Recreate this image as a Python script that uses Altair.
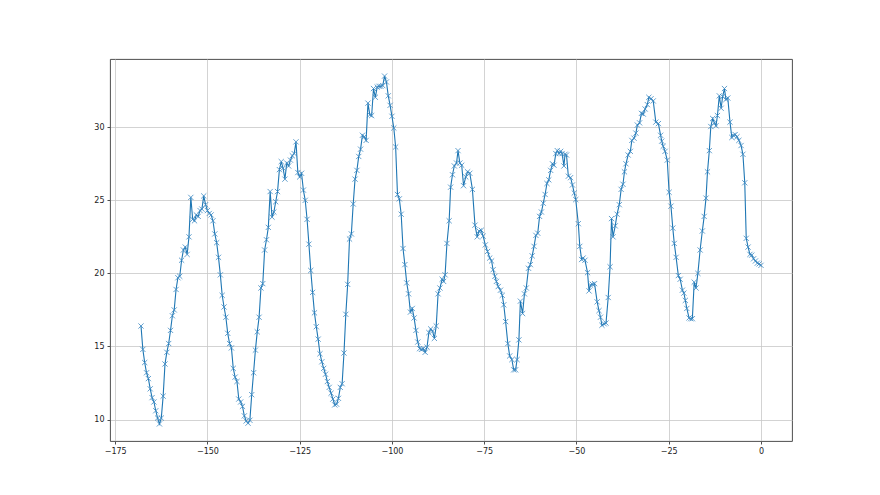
import numpy as np
import pandas as pd
import altair as alt

# --- hourly-ish readings, regular half-hour grid from -168 to -87 ---
hours_regular = list(np.arange(-168.0, -86.9, 0.5))
temps_regular = [
    16.4, 14.8, 13.9, 13.2, 12.8, 12.1, 11.5, 11.2, 10.6, 10.1,
    9.7, 10.1, 11.6, 13.8, 14.6, 15.2, 16.1, 17.1, 17.5, 18.9,
    19.7, 19.8, 20.9, 21.6, 21.8, 21.3, 22.5, 25.2, 23.7, 23.6,
    24.0, 23.9, 24.3, 24.4, 25.3, 24.7, 24.3, 24.1, 24.0, 23.6,
    22.7, 22.1, 21.1, 19.9, 18.5, 17.7, 17.0, 15.9, 15.2, 14.9,
    13.5, 12.9, 12.6, 11.4,
    11.2, 10.9, 10.25, 9.9, 9.75, 9.95, 11.7, 13.2, 14.75, 16.0,
    17.0, 19.0, 19.3, 21.6, 22.3, 23.15, 25.6, 23.85, 24.2, 24.9,
    25.6, 27.1, 27.65, 27.2, 26.45, 27.55, 27.35, 27.75, 28.05, 28.2,
    29.0, 26.9, 26.6, 26.85, 25.7, 25.0, 23.7, 22.0, 20.2, 18.7,
    17.3, 16.35, 15.5, 14.5, 13.95, 13.5, 13.1, 12.6, 12.2, 11.8,
    11.4, 11.0, 11.05, 11.45,
    12.2, 12.45, 14.55, 17.2, 19.25, 22.35, 22.7, 24.75, 26.45, 27.05,
    28.0, 28.5, 29.45, 29.35, 29.1, 31.65, 30.85, 30.8, 32.65, 32.05,
    32.75, 32.8, 32.8, 32.85, 33.5, 33.1, 32.15, 31.5, 30.75, 29.95,
    28.65, 25.4, 25.1, 24.05, 21.7, 20.6, 19.35, 18.6, 17.35, 17.6,
    16.95, 16.1, 15.3, 14.85, 14.8, 14.85, 14.6, 14.95, 15.95, 16.2,
    16.05, 15.55, 16.4, 18.6, 19.0,
]

# --- readings from -86.4 to 0 (positions) ---
hours_late = [
    -86.4, -86.0, -85.6, -85.1, -84.5, -84.1, -83.6, -83.1, -82.5, -82.1,
    -81.6, -81.1, -80.6, -80.0, -79.5, -78.9, -78.2, -77.5, -76.9, -76.4,
    -75.8, -75.3, -74.7, -74.1, -73.5, -73.0, -72.6, -72.1, -71.7, -71.2,
    -70.6, -70.1, -69.7, -69.2, -68.6, -68.1, -67.5, -67.0, -66.5, -66.1,
    -65.6, -65.2, -64.6, -64.1, -63.6, -63.0, -62.5, -62.0, -61.5, -61.0,
    -60.5,
    -60.0, -59.5, -59.0, -58.5, -58.0, -57.5, -57.0, -56.5, -56.1, -55.6,
    -55.2, -54.7, -54.3, -53.9, -53.4, -53.1, -52.7, -52.2, -51.6, -51.1,
    -50.6, -50.2, -49.5, -49.1, -48.6, -48.2, -47.7, -47.0, -46.6, -46.2,
    -45.7, -45.1, -44.4, -43.9, -43.5, -43.1, -42.5, -42.0, -41.4, -40.9,
    -40.5, -40.1, -39.5, -39.0, -38.4, -37.9, -37.4, -37.0, -36.6, -36.0,
    -35.4, -35.0, -34.4, -33.9, -33.5, -32.9, -32.4, -31.9, -31.4, -30.8,
    -30.4,
    -29.8, -29.2, -28.5, -27.8, -27.2, -26.9, -26.5, -26.0, -25.4, -24.9,
    -24.4, -23.9, -23.5, -23.0, -22.4, -21.9, -21.3, -20.9, -20.5, -20.1,
    -19.5, -19.05, -18.6, -18.1, -17.6, -17.1, -16.5, -15.9, -15.4, -14.9,
    -14.5, -14.0, -13.6, -13.1, -12.6, -12.2, -11.8, -11.3, -10.8, -10.4,
    -9.9, -9.5, -9.0, -8.4, -7.9, -7.5, -7.0, -6.5, -6.0, -5.4,
    -4.9, -4.4, -4.0, -3.5, -3.0, -2.5, -2.0, -1.5, -1.0, -0.5,
    0.0,
]
temps_late = [
    19.6, 19.45, 19.9, 22.05, 23.6, 25.9, 26.75, 27.35, 27.55, 28.4,
    27.55, 27.4, 26.0, 26.6, 26.95, 26.85, 25.75, 23.3, 22.5, 22.9,
    22.95, 22.55, 21.95, 21.5, 21.05, 20.85, 20.25, 19.8, 19.45, 19.1,
    18.85, 18.5, 17.85, 16.7, 15.2, 14.35, 14.1, 13.4, 13.4, 14.1,
    15.45, 18.1, 17.25, 18.6, 19.0, 20.35, 20.6, 21.2, 21.85, 22.6,
    22.75,
    23.9, 24.2, 24.8, 25.4, 26.15, 26.4, 27.05, 27.5, 27.4, 28.2,
    28.4, 28.2, 28.35, 28.2, 27.35, 28.15, 28.1, 26.65, 26.55, 26.05,
    25.5, 25.05, 23.4, 21.85, 20.95, 21.05, 20.9, 20.05, 18.8, 19.2,
    19.25, 19.3, 18.05, 17.45, 17.0, 16.45, 16.55, 16.6, 18.35, 20.45,
    23.75, 22.5, 23.25, 24.05, 24.7, 25.75, 26.1, 26.95, 27.5, 28.1,
    28.35, 29.1, 29.25, 29.6, 30.15, 30.3, 30.95, 30.9, 31.25, 31.55,
    32.05,
    31.95, 31.8, 30.35, 30.25, 29.45, 29.05, 28.7, 28.35, 27.75, 25.55,
    24.6, 23.1, 22.05, 21.1, 19.85, 19.6, 18.85, 18.65, 18.15, 17.6,
    16.95, 16.9, 16.9, 19.4, 19.0, 20.0, 21.6, 22.9, 23.9, 25.15,
    26.95, 28.4, 30.05, 30.6, 30.3, 30.1, 30.8, 32.15, 31.3, 32.1,
    32.65, 31.9, 32.0, 30.35, 29.3, 29.45, 29.5, 29.35, 29.1, 28.75,
    28.15, 26.2, 22.4, 21.8, 21.3, 21.25, 21.0, 20.85, 20.7, 20.65,
    20.55,
]

x_ticks = [-175, -150, -125, -100, -75, -50, -25, 0]
y_ticks = [10, 15, 20, 25, 30]

df = pd.DataFrame({
    "hour": [float(h) for h in hours_regular] + hours_late,
    "temp": temps_regular + temps_late,
})

blue = "#1f77b4"
x_enc = alt.X(
    "hour:Q",
    scale=alt.Scale(domain=[-176.4, 8.4], nice=False, zero=False),
    axis=alt.Axis(values=x_ticks, format="d", title=None),
)
y_enc = alt.Y(
    "temp:Q",
    scale=alt.Scale(domain=[8.53, 34.67], nice=False, zero=False),
    axis=alt.Axis(values=y_ticks, format="d", title=None),
)

line = alt.Chart(df).mark_line(color=blue, strokeWidth=1.1).encode(x=x_enc, y=y_enc)
pts = alt.Chart(df).mark_point(
    shape="M-1,-1L1,1M-1,1L1,-1",
    filled=False,
    color="#3f8bc4",
    size=27,
    strokeWidth=0.9,
    opacity=0.9,
).encode(x=x_enc, y=y_enc)

chart = (
    alt.layer(line, pts)
    .properties(
        width=682,
        height=382,
        autosize=alt.AutoSizeParams(type="none"),
        padding={"left": 102, "top": 51, "right": 60, "bottom": 40},
        background="white",
    )
    .configure_view(stroke="#3a3a3a", strokeWidth=0.9)
    .configure_axis(
        domain=False,
        grid=True,
        gridColor="#c8c8c8",
        gridWidth=0.8,
        ticks=True,
        tickColor="#222222",
        tickSize=3,
        tickWidth=0.8,
        labelFont="DejaVu Sans",
        labelFontSize=8,
        labelColor="#222222",
        labelPadding=3,
    )
)

chart.save("out.html", embed_options={"renderer": "svg", "actions": False})
